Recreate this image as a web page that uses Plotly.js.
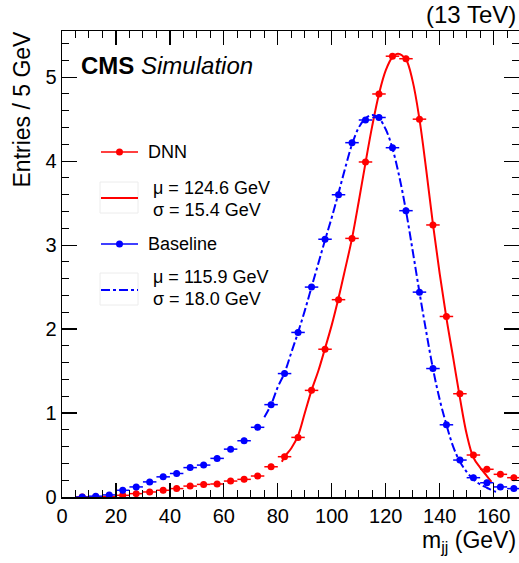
<!DOCTYPE html>
<html>
<head>
<meta charset="utf-8">
<script src="https://cdn.plot.ly/plotly-3.0.1.min.js"></script>
<style>html,body{margin:0;padding:0;background:#fff;}#chart{width:519px;height:563px;}</style>
</head>
<body>
<div id="chart"></div>
<script>
// Bin centres (GeV), 5 GeV bins
const binCenters = [7.5,12.5,17.5,22.5,27.5,32.5,37.5,42.5,47.5,52.5,57.5,62.5,67.5,72.5,77.5,82.5,87.5,92.5,97.5,102.5,107.5,112.5,117.5,122.5,127.5,132.5,137.5,142.5,147.5,152.5,157.5,162.5,167.5];
// DNN entries per bin
const dnnValues = [0.0,0.0,0.005,0.02,0.04,0.06,0.08,0.10,0.13,0.15,0.155,0.19,0.21,0.25,0.36,0.48,0.71,1.27,1.76,2.35,3.08,3.99,4.80,5.25,5.22,4.50,3.24,2.15,1.23,0.50,0.33,0.27,0.23];
// Baseline entries per bin
const baseValues = [0.0,0.01,0.025,0.08,0.12,0.18,0.24,0.28,0.35,0.38,0.46,0.57,0.67,0.83,1.10,1.47,1.96,2.50,3.07,3.60,4.22,4.49,4.52,4.16,3.41,2.44,1.53,0.86,0.44,0.23,0.17,0.12,0.10];
// Fit curves
const dnnFitX = [81.5,82.5,85,87.5,90,92.5,95,97.5,100,102.5,105,107.5,110,112.5,115,117.5,120,122.5,124.6,127.5,130,132.5,135,137.5,140,142.5,145,147.5,150,152.5,155,157.5,159.2];
const dnnFitY = [0.42,0.48,0.58,0.73,1.00,1.27,1.50,1.77,2.05,2.37,2.72,3.08,3.52,3.98,4.42,4.80,5.08,5.24,5.28,5.21,4.95,4.50,3.90,3.25,2.66,2.13,1.66,1.18,0.75,0.47,0.35,0.25,0.18];
const baseFitX = [75,77.5,80,82.5,85,87.5,90,92.5,95,97.5,100,102.5,105,107.5,110,112.5,115,117.5,120,122.5,125,127.5,130,132.5,135,137.5,140,142.5,145,147.5,150,152.5,155,157.5,160,162];
const baseFitY = [0.95,1.10,1.31,1.48,1.72,1.96,2.22,2.50,2.78,3.06,3.33,3.62,3.92,4.20,4.40,4.51,4.55,4.51,4.38,4.15,3.82,3.41,2.93,2.44,1.97,1.53,1.16,0.86,0.60,0.42,0.30,0.21,0.15,0.11,0.07,0.06];
// Labels
const seriesNames = ["DNN","Baseline"];
const fitLabels = [["μ = 124.6 GeV","σ = 15.4 GeV"],["μ = 115.9 GeV","σ = 18.0 GeV"]];

const RED = "#ff0000", BLUE = "#0000ff";
const FONT = "Liberation Sans, Arial, Helvetica, sans-serif";

function pts(name, y, color) {
  return {
    type: "scatter", mode: "markers", name: name, x: binCenters, y: y,
    marker: {color: color, size: 7},
    error_x: {type: "constant", value: 2.5, width: 0, thickness: 1.5, color: color},
    error_y: {type: "constant", value: 0.035, width: 0, thickness: 1.5, color: color},
    showlegend: false, cliponaxis: true
  };
}
const traces = [
  {type: "scatter", mode: "lines", x: dnnFitX, y: dnnFitY, line: {color: RED, width: 2, shape: "spline"}, showlegend: false, name: "DNN fit"},
  {type: "scatter", mode: "lines", x: baseFitX, y: baseFitY, line: {color: BLUE, width: 2, dash: "dashdot", shape: "spline"}, showlegend: false, name: "Baseline fit"},
  pts(seriesNames[0], dnnValues, RED),
  pts(seriesNames[1], baseValues, BLUE)
];

// pixel -> paper helpers (plot area: x 62..519, y 31..497)
const L = 62, R = 519, T = 31, B = 497;
const px = v => (v - L) / (R - L);
const py = v => (B - v) / (B - T);

const shapes = [];
const annotations = [];
function legendPoint(yPix, color, label) {
  shapes.push({type: "line", xref: "paper", yref: "paper", x0: px(101), x1: px(138), y0: py(yPix), y1: py(yPix), line: {color: color, width: 1.5}});
  shapes.push({type: "circle", xref: "paper", yref: "paper", xsizemode: "pixel", ysizemode: "pixel", xanchor: px(119.5), yanchor: py(yPix), x0: -3.5, x1: 3.5, y0: -3.5, y1: 3.5, fillcolor: color, line: {color: color, width: 0}});
  annotations.push({xref: "paper", yref: "paper", x: px(146), y: py(yPix), xanchor: "left", yanchor: "middle", showarrow: false, text: label, font: {family: FONT, size: 18, color: "#000"}});
}
function legendFit(top, bottom, lineY, color, dash, l1, y1, l2, y2) {
  shapes.push({type: "rect", xref: "paper", yref: "paper", x0: px(100), x1: px(138), y0: py(bottom), y1: py(top), line: {color: "#ececec", width: 1}, fillcolor: "rgba(0,0,0,0)"});
  shapes.push({type: "line", xref: "paper", yref: "paper", x0: px(101), x1: px(138), y0: py(lineY), y1: py(lineY), line: {color: color, width: 2, dash: dash}});
  annotations.push({xref: "paper", yref: "paper", x: px(151), y: py(y1), xanchor: "left", yanchor: "middle", showarrow: false, text: l1, font: {family: FONT, size: 18, color: "#000"}});
  annotations.push({xref: "paper", yref: "paper", x: px(151), y: py(y2), xanchor: "left", yanchor: "middle", showarrow: false, text: l2, font: {family: FONT, size: 18, color: "#000"}});
}
legendPoint(152, RED, seriesNames[0]);
legendFit(182, 213, 198, RED, "solid", fitLabels[0][0], 188, fitLabels[0][1], 209.5);
legendPoint(244, BLUE, seriesNames[1]);
legendFit(273, 305, 290, BLUE, "dashdot", fitLabels[1][0], 277, fitLabels[1][1], 298.5);

annotations.push({xref: "paper", yref: "paper", x: px(79), y: py(66), xanchor: "left", yanchor: "middle", showarrow: false, text: "<b>CMS</b> <i>Simulation</i>", font: {family: FONT, size: 24, color: "#000"}});
annotations.push({xref: "paper", yref: "paper", x: px(518), y: py(14), xanchor: "right", yanchor: "middle", showarrow: false, text: "(13 TeV)", font: {family: FONT, size: 24, color: "#000"}});
annotations.push({xref: "paper", yref: "paper", x: px(518), y: py(541), xanchor: "right", yanchor: "middle", showarrow: false, text: "m<sub>jj</sub> (GeV)", font: {family: FONT, size: 23, color: "#000"}});
annotations.push({xref: "paper", yref: "paper", x: px(22), y: py(29), xanchor: "center", yanchor: "top", textangle: -90, showarrow: false, text: "Entries / 5 GeV", font: {family: FONT, size: 23, color: "#000"}});

const axisCommon = {
  showgrid: false, zeroline: false, showline: true, linecolor: "#000", linewidth: 1.5,
  mirror: "ticks", ticks: "inside", tickcolor: "#000", tickwidth: 1.2,
  tickfont: {family: FONT, size: 20, color: "#000"}, automargin: false
};
const layout = {
  width: 519, height: 563,
  margin: {l: L, r: 519 - R, t: T, b: 563 - B},
  paper_bgcolor: "#fff", plot_bgcolor: "#fff",
  showlegend: false,
  xaxis: Object.assign({}, axisCommon, {range: [0, 169.4], dtick: 20, tick0: 0, ticklen: 14,
    minor: {dtick: 5, ticks: "inside", ticklen: 7, tickcolor: "#000", tickwidth: 1}}),
  yaxis: Object.assign({}, axisCommon, {range: [0, 5.55], dtick: 1, tick0: 0, ticklen: 15,
    minor: {dtick: 0.2, ticks: "inside", ticklen: 7, tickcolor: "#000", tickwidth: 1}}),
  shapes: shapes,
  annotations: annotations
};
Plotly.newPlot("chart", traces, layout, {displayModeBar: false, staticPlot: true});
</script>
</body>
</html>
